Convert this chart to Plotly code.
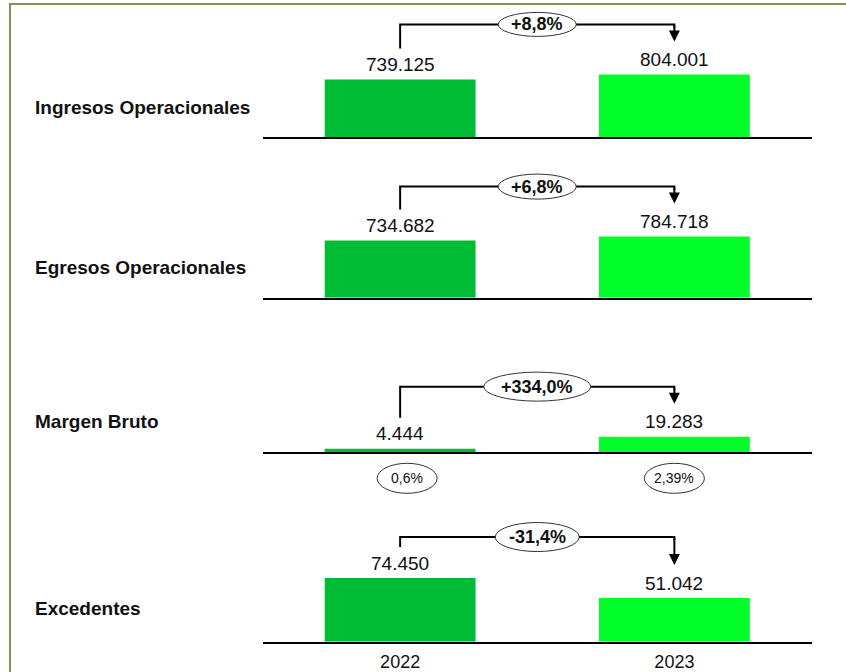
import plotly.graph_objects as go

# ---------------- data ----------------
years = ["2022", "2023"]
categories = ["Ingresos Operacionales", "Egresos Operacionales", "Margen Bruto", "Excedentes"]
values_2022 = [739125, 734682, 4444, 74450]
values_2023 = [804001, 784718, 19283, 51042]
change_labels = ["+8,8%", "+6,8%", "+334,0%", "-31,4%"]
margin_panel = 2  # index of "Margen Bruto"
margin_labels = ["0,6%", "2,39%"]

# ---------------- style / layout ----------------
W, H = 846, 672
FONT = "Liberation Sans"
bar_colors = ["#00BB34", "#00FF2A"]
baseline_px = [137, 297.7, 452.3, 641.7]
panel_h = 130
y_max = [1.67e6, 1.67e6, 160000, 152000]
bracket_off = [50, 50, 50, 41]   # px above taller bar
left_gap, arrow_gap = 31, 33      # px above bars
ell_w = [78, 78, 107, 84]
ell_h = [24, 25, 29, 29]
label_shift = [30, 30, 31, 33]
x_dom = [263 / W, 811.5 / W]
x_range = [-0.5, 1.5]
frame_color = "#8A9150"


def fmt(v):
    return f"{v:,}".replace(",", ".")


fig = go.Figure()
layout = dict(
    width=W, height=H, margin=dict(l=0, r=0, t=0, b=0),
    paper_bgcolor="white", plot_bgcolor="rgba(0,0,0,0)",
    showlegend=False, font=dict(family=FONT, color="#111"),
)
shapes, annotations = [], []
xs = list(range(len(years)))

for i, cat in enumerate(categories):
    n = "" if i == 0 else str(i + 1)
    xa, ya = "x" + n, "y" + n
    vals = [values_2022[i], values_2023[i]]
    fig.add_trace(go.Bar(
        x=xs, y=vals, width=0.55, marker=dict(color=bar_colors, line=dict(width=0)),
        xaxis=xa, yaxis=ya, hoverinfo="skip",
    ))
    b = baseline_px[i]
    dom = [(H - b) / H, (H - b + panel_h) / H]
    last = i == len(categories) - 1
    layout["xaxis" + n] = dict(
        domain=x_dom, anchor=ya, range=x_range, showgrid=False, zeroline=False,
        showline=True, linecolor="black", linewidth=2, ticks="",
        tickvals=xs, ticktext=years, showticklabels=last, ticklabelstandoff=3,
        tickfont=dict(family=FONT, size=18, color="#111"), fixedrange=True,
    )
    layout["yaxis" + n] = dict(domain=dom, anchor=xa, range=[0, y_max[i]], visible=False,
                               fixedrange=True)

    ppu = panel_h / y_max[i]  # pixels per unit
    top = max(vals)
    yb = top + bracket_off[i] / ppu
    yl = vals[0] + left_gap / ppu
    ytip = vals[1] + arrow_gap / ppu

    # bracket (left vertical + horizontal + short right corner)
    shapes.append(dict(
        type="path", xref=xa, yref=ya,
        path=f"M 0,{yl} L 0,{yb} L 1,{yb} L 1,{yb - 3 / ppu}",
        line=dict(color="black", width=2), layer="above",
    ))
    # right vertical with arrow head
    annotations.append(dict(
        x=1, y=ytip, ax=1, ay=yb, xref=xa, yref=ya, axref=xa, ayref=ya,
        text="", showarrow=True, arrowhead=2, arrowsize=1.1, arrowwidth=2,
        arrowcolor="black", standoff=0,
    ))
    # ellipse with change
    shapes.append(dict(
        type="circle", xref=xa, yref=ya, xsizemode="pixel", ysizemode="pixel",
        xanchor=0.5, yanchor=yb, x0=-ell_w[i] / 2, x1=ell_w[i] / 2,
        y0=-ell_h[i] / 2, y1=ell_h[i] / 2,
        fillcolor="white", line=dict(color="#333", width=1), layer="above",
    ))
    annotations.append(dict(
        x=0.5, y=yb, xref=xa, yref=ya, text=f"<b>{change_labels[i]}</b>",
        showarrow=False, font=dict(family=FONT, size=18, color="#111"),
    ))
    # value labels
    for j, v in enumerate(vals):
        annotations.append(dict(
            x=xs[j], y=v, xref=xa, yref=ya, text=fmt(v), showarrow=False,
            yshift=15, yanchor="middle", font=dict(family=FONT, size=19, color="#111"),
        ))
    # category label
    annotations.append(dict(
        x=33 / W, xref="paper", xanchor="left", y=0, yref=ya + " domain",
        yanchor="middle", yshift=label_shift[i], text=f"<b>{cat}</b>", showarrow=False,
        font=dict(family=FONT, size=19, color="#111"),
    ))
    # margin ellipses (below the baseline, so placed on domain refs to avoid clipping)
    if i == margin_panel:
        for j, lab in enumerate(margin_labels):
            dx = 7 if j == 0 else 0
            fx = (xs[j] - x_range[0]) / (x_range[1] - x_range[0])
            shapes.append(dict(
                type="circle", xref=xa + " domain", yref=ya + " domain",
                xsizemode="pixel", ysizemode="pixel",
                xanchor=fx, yanchor=0, x0=dx - 30, x1=dx + 30, y0=-26 - 15, y1=-26 + 15,
                fillcolor="white", line=dict(color="#333", width=1),
            ))
            annotations.append(dict(
                x=xs[j], y=0, xref=xa, yref=ya, text=lab, showarrow=False,
                xshift=dx, yshift=-26, yanchor="middle",
                font=dict(family=FONT, size=14, color="#111"),
            ))

# outer frame (left and top edges visible in the picture)
shapes.append(dict(type="line", xref="paper", yref="paper", x0=10 / W, x1=1,
                   y0=(H - 4) / H, y1=(H - 4) / H, line=dict(color=frame_color, width=2)))
shapes.append(dict(type="line", xref="paper", yref="paper", x0=10 / W, x1=10 / W,
                   y0=0, y1=(H - 3) / H, line=dict(color=frame_color, width=2)))

layout["shapes"] = shapes
layout["annotations"] = annotations
fig.update_layout(**layout)
fig.write_html("out.html", post_script="document.body.style.margin='0';",
               config={"displayModeBar": False})
